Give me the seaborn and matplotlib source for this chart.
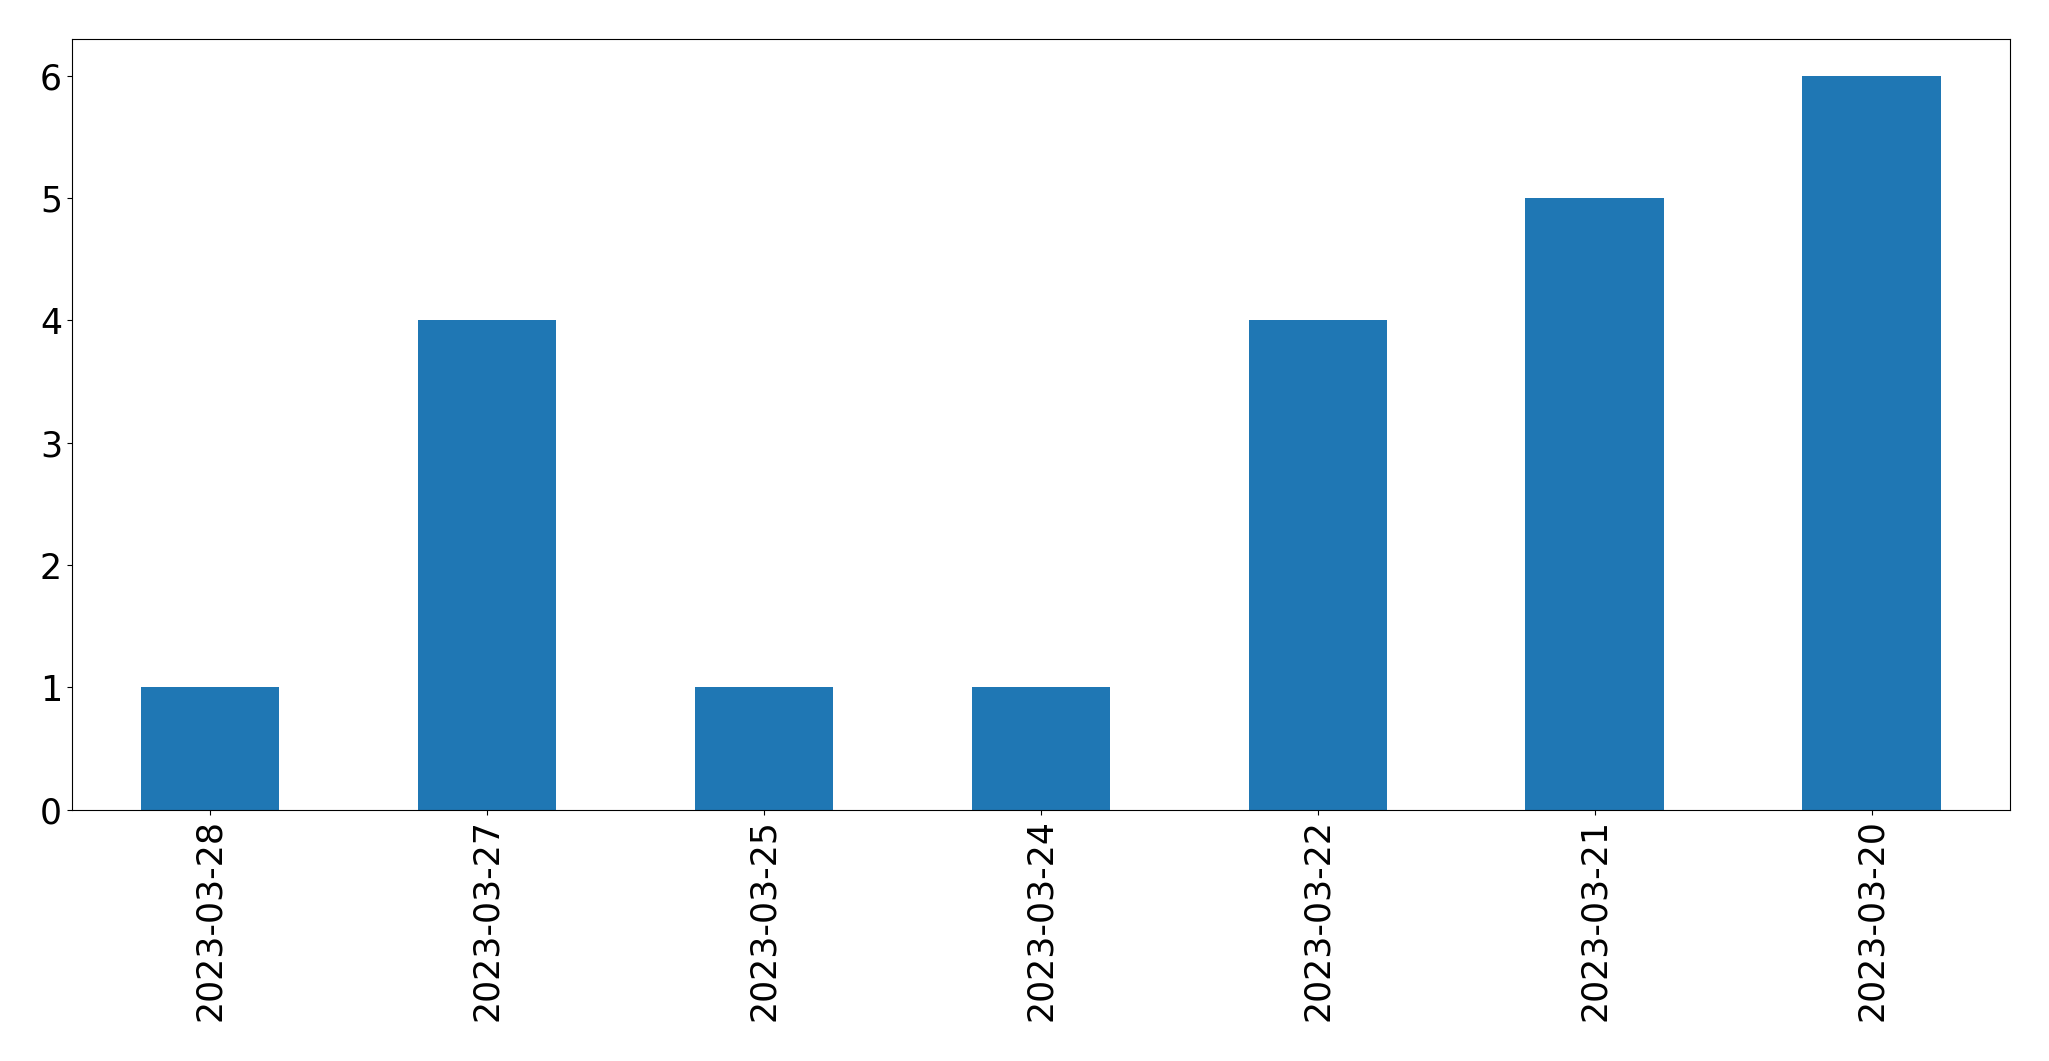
import matplotlib
matplotlib.use('Agg')
import matplotlib.pyplot as plt
import seaborn as sns
import pandas as pd

# dates and counts, in the order shown
dates = ['2023-03-28', '2023-03-27', '2023-03-25', '2023-03-24',
         '2023-03-22', '2023-03-21', '2023-03-20']
counts = [1, 4, 1, 1, 4, 5, 6]

df = pd.DataFrame({'date': dates, 'count': counts})

fig, ax = plt.subplots(figsize=(20.49, 10.61), dpi=100)
sns.barplot(x='date', y='count', data=df, ax=ax, color='#1f77b4',
            width=0.5, saturation=1, order=dates)

ax.set_xlim(-0.5, 6.5)
ax.set_ylim(0, 6.3)
ax.set_xlabel('')
ax.set_ylabel('')
ax.tick_params(axis='x', rotation=90, labelsize=25)
ax.tick_params(axis='y', labelsize=25)

plt.subplots_adjust(left=0.035, right=0.981, top=0.963, bottom=0.237)
plt.savefig('out.png', dpi=100)
